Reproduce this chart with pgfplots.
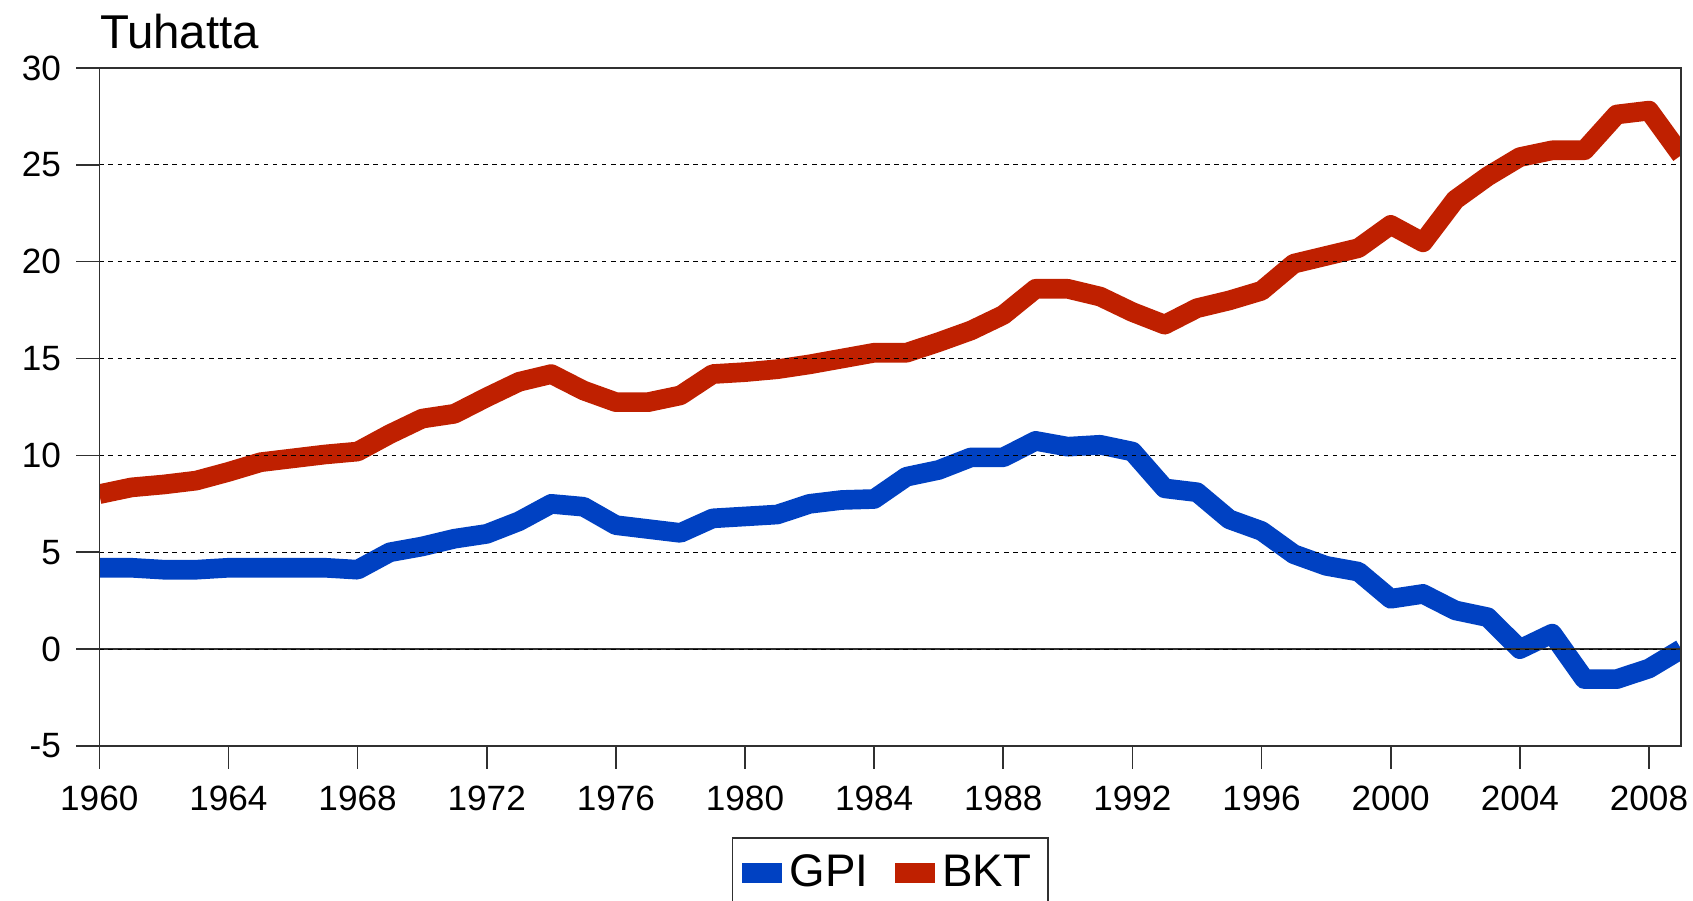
\documentclass[border=0pt]{standalone}
\usepackage{fontspec}
\setmainfont{Liberation Sans}
\usepackage{pgfplots}
\pgfplotsset{compat=1.18}
\definecolor{gpiblue}{HTML}{0041C2}
\definecolor{bktred}{HTML}{BF2000}
\definecolor{axisgrey}{HTML}{303030}

\pgfplotstableread{
year gpi bkt
1960 4.2 8.0
1961 4.2 8.35
1962 4.1 8.5
1963 4.1 8.7
1964 4.2 9.15
1965 4.2 9.65
1966 4.2 9.85
1967 4.2 10.05
1968 4.1 10.2
1969 5.0 11.1
1970 5.3 11.9
1971 5.7 12.15
1972 5.95 13.0
1973 6.6 13.8
1974 7.5 14.2
1975 7.35 13.35
1976 6.4 12.75
1977 6.2 12.75
1978 6.0 13.1
1979 6.75 14.2
1980 6.85 14.3
1981 6.95 14.45
1982 7.5 14.7
1983 7.7 15.0
1984 7.75 15.3
1985 8.9 15.3
1986 9.25 15.85
1987 9.9 16.45
1988 9.9 17.25
1989 10.75 18.6
1990 10.45 18.6
1991 10.55 18.2
1992 10.2 17.4
1993 8.3 16.75
1994 8.1 17.6
1995 6.7 18.0
1996 6.1 18.5
1997 4.9 19.9
1998 4.3 20.3
1999 4.0 20.7
2000 2.6 21.9
2001 2.85 21.0
2002 2.0 23.2
2003 1.65 24.4
2004 0.0 25.4
2005 0.8 25.75
2006 -1.55 25.75
2007 -1.55 27.6
2008 -1.0 27.8
2009 0.0 25.5
}\datatable

\begin{document}
\begin{tikzpicture}
\useasboundingbox (-0.993cm,-1.55cm) rectangle (15.937cm,7.46cm);
\begin{axis}[
  at={(0,0)}, anchor=south west,
  scale only axis,
  width=15.82cm, height=6.78cm,
  xmin=1960, xmax=2009,
  ymin=-5, ymax=30,
  xtick={1960,1964,...,2008},
  ytick={-5,0,...,30},
  tick pos=left,
  tick align=outside,
  major tick length=0.23cm,
  tick style={axisgrey, line width=0.45pt},
  axis line style={axisgrey, line width=0.45pt},
  ymajorgrids,
  major grid style={black, line width=0.35pt, dash pattern=on 1.3pt off 1.3pt},
  axis on top,
  ticklabel style={font=\fontsize{10}{12}\selectfont},
  /pgf/number format/assume math mode=true,
  xticklabel style={/pgf/number format/1000 sep={}, yshift=-0.05cm},
  yticklabel style={xshift=-0.03cm},
  legend columns=2,
  legend style={
    at={(0.5,-0.91cm)}, anchor=north,
    draw=axisgrey, line width=0.5pt,
    font=\fontsize{13}{15}\selectfont,
    inner xsep=0.1cm, inner ysep=0.1cm,
    /tikz/every even column/.append style={column sep=0.2cm},
  },
  legend image code/.code={\fill[#1, draw=none] (0cm,-0.1cm) rectangle (0.4cm,0.1cm);},
]
\addplot[color=gpiblue, line width=5.6pt, line join=round, no marks] table[x=year, y=gpi] {\datatable};
\addlegendentry{GPI}
\addplot[color=bktred, line width=5.6pt, line join=round, no marks] table[x=year, y=bkt] {\datatable};
\addlegendentry{BKT}
\addplot[color=axisgrey, line width=0.45pt, no marks, forget plot] coordinates {(1960,0) (2009,0)};
\end{axis}
\node[anchor=base west, inner sep=0pt, font=\fontsize{13.5}{15}\selectfont]
  at ([yshift=0.19cm]current axis.north west) {Tuhatta};
\end{tikzpicture}
\end{document}
